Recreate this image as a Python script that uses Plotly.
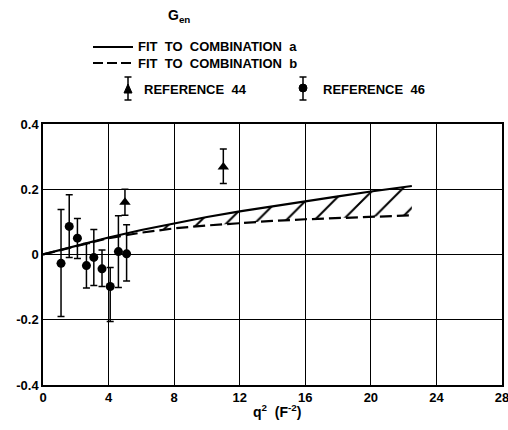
import plotly.graph_objects as go

# ---- data ----
ref46_q2 = [1.1, 1.6, 2.1, 2.65, 3.1, 3.6, 4.1, 4.6, 5.1]
ref46_g = [-0.027, 0.086, 0.05, -0.034, -0.009, -0.044, -0.098, 0.009, 0.002]
ref46_hi = [0.138, 0.183, 0.11, 0.034, 0.077, 0.014, -0.04, 0.119, 0.091]
ref46_lo = [-0.19, -0.009, -0.012, -0.103, -0.095, -0.098, -0.205, -0.101, -0.081]

ref44_q2 = [5.0, 11.0]
ref44_g = [0.16, 0.268]
ref44_hi = [0.2, 0.323]
ref44_lo = [0.12, 0.218]

fit_q2 = [0, 2, 4, 6, 8, 10, 12, 14, 16, 18, 20, 22.5]
fit_a = [0, 0.027, 0.052, 0.075, 0.096, 0.115, 0.132, 0.148, 0.163, 0.178, 0.193, 0.21]
fit_b = [0, 0.026, 0.05, 0.067, 0.08, 0.089, 0.097, 0.103, 0.108, 0.112, 0.116, 0.12]
hatch_start = 3  # index where the hatched band begins

x_ticks = [0, 4, 8, 12, 16, 20, 24, 28]
y_ticks = [-0.4, -0.2, 0, 0.2, 0.4]
y_ticklabels = ["-0.4", "-0.2", "0", "0.2", "0.4"]

FONT = "Liberation Sans"
W, H = 508, 430
L, R, T, B = 43, 6, 124, 45

fig = go.Figure()

# hatched band between the two fits
fig.add_trace(go.Scatter(x=fit_q2[hatch_start:], y=fit_b[hatch_start:], mode="lines",
                         line=dict(width=0, color="black"), showlegend=False, hoverinfo="skip"))
fig.add_trace(go.Scatter(x=fit_q2[hatch_start:], y=fit_a[hatch_start:], mode="lines",
                         line=dict(width=0, color="black"), fill="tonexty",
                         fillcolor="rgba(0,0,0,0)",
                         fillpattern=dict(shape="/", fgcolor="black", fgopacity=1,
                                          bgcolor="rgba(255,255,255,0)",
                                          size=20, solidity=0.1),
                         showlegend=False, hoverinfo="skip"))

fig.add_trace(go.Scatter(x=fit_q2, y=fit_a, mode="lines", line=dict(color="black", width=2.2),
                         showlegend=False))
fig.add_trace(go.Scatter(x=fit_q2, y=fit_b, mode="lines",
                         line=dict(color="black", width=2.2, dash="12px,5px"), showlegend=False))


def err(y, hi, lo):
    return [h - v for h, v in zip(hi, y)], [v - l for v, l in zip(y, lo)]


p46, m46 = err(ref46_g, ref46_hi, ref46_lo)
fig.add_trace(go.Scatter(x=ref46_q2, y=ref46_g, mode="markers",
                         marker=dict(symbol="circle", size=9, color="black"),
                         error_y=dict(type="data", symmetric=False, array=p46, arrayminus=m46,
                                      color="black", thickness=1.5, width=3.5),
                         showlegend=False))
p44, m44 = err(ref44_g, ref44_hi, ref44_lo)
fig.add_trace(go.Scatter(x=ref44_q2, y=ref44_g, mode="markers",
                         marker=dict(symbol="triangle-up", size=10, color="black"),
                         error_y=dict(type="data", symmetric=False, array=p44, arrayminus=m44,
                                      color="black", thickness=1.5, width=3.5),
                         showlegend=False))

# ---- legend / labels drawn in paper coords ----
def px(x):
    return (x - L) / (W - L - R)


def py(y):
    return (H - B - y) / (H - T - B)


shapes = []
shapes.append(dict(type="line", xref="paper", yref="paper", x0=px(93), x1=px(133),
                   y0=py(47), y1=py(47), line=dict(color="black", width=2)))
shapes.append(dict(type="line", xref="paper", yref="paper", x0=px(93), x1=px(133),
                   y0=py(63), y1=py(63), line=dict(color="black", width=2, dash="10px,4px")))
for cx in (128, 303):
    shapes.append(dict(type="line", xref="paper", yref="paper", x0=px(cx), x1=px(cx),
                       y0=py(77), y1=py(100), line=dict(color="black", width=1.5)))
    for yy in (77, 100):
        shapes.append(dict(type="line", xref="paper", yref="paper", x0=px(cx - 3.5), x1=px(cx + 3.5),
                           y0=py(yy), y1=py(yy), line=dict(color="black", width=1.5)))
shapes.append(dict(type="path", xref="paper", yref="paper",
                   path=f"M {px(124)} {py(93)} L {px(132)} {py(93)} L {px(128)} {py(84)} Z",
                   fillcolor="black", line=dict(color="black", width=1)))
shapes.append(dict(type="circle", xref="paper", yref="paper", x0=px(299), x1=px(307),
                   y0=py(92), y1=py(84), fillcolor="black", line=dict(color="black", width=1)))

ann_font = dict(family=FONT, size=13, color="black", weight="bold")
annotations = [
    dict(text="G<sub>en</sub>", x=px(166), y=py(16), xref="paper", yref="paper",
         xanchor="left", yanchor="middle", showarrow=False,
         font=dict(family=FONT, size=14, color="black", weight="bold")),
    dict(text="FIT  TO  COMBINATION  a", x=px(136), y=py(47), xref="paper", yref="paper",
         xanchor="left", yanchor="middle", showarrow=False, font=ann_font),
    dict(text="FIT  TO  COMBINATION  b", x=px(136), y=py(63), xref="paper", yref="paper",
         xanchor="left", yanchor="middle", showarrow=False, font=ann_font),
    dict(text="REFERENCE  44", x=px(142), y=py(89), xref="paper", yref="paper",
         xanchor="left", yanchor="middle", showarrow=False, font=ann_font),
    dict(text="REFERENCE  46", x=px(321), y=py(89), xref="paper", yref="paper",
         xanchor="left", yanchor="middle", showarrow=False, font=ann_font),
    dict(text="q<sup>2</sup>  (F<sup>-2</sup>)", x=px(277), y=py(411), xref="paper", yref="paper",
         xanchor="center", yanchor="middle", showarrow=False,
         font=dict(family=FONT, size=14, color="black", weight="bold")),
]

tick_font = dict(family=FONT, size=13, color="black", weight="bold")
fig.update_layout(
    width=W, height=H,
    margin=dict(l=L, r=R, t=T, b=B),
    paper_bgcolor="white", plot_bgcolor="white",
    font=dict(family=FONT, size=13, color="black"),
    shapes=shapes, annotations=annotations,
    showlegend=False,
)
fig.update_xaxes(range=[0, 28], tickvals=x_ticks, ticktext=[str(t) for t in x_ticks],
                 showgrid=True, gridcolor="black", gridwidth=1, zeroline=False,
                 showline=True, linecolor="black", linewidth=1.5, mirror=True,
                 ticks="", tickfont=tick_font, automargin=False, ticklabeloverflow="allow")
fig.update_yaxes(range=[-0.4, 0.4], tickvals=y_ticks, ticktext=y_ticklabels,
                 showgrid=True, gridcolor="black", gridwidth=1, zeroline=False,
                 showline=True, linecolor="black", linewidth=1.5, mirror=True,
                 ticks="", tickfont=tick_font, automargin=False, ticklabeloverflow="allow")

fig.write_html("out.html")
